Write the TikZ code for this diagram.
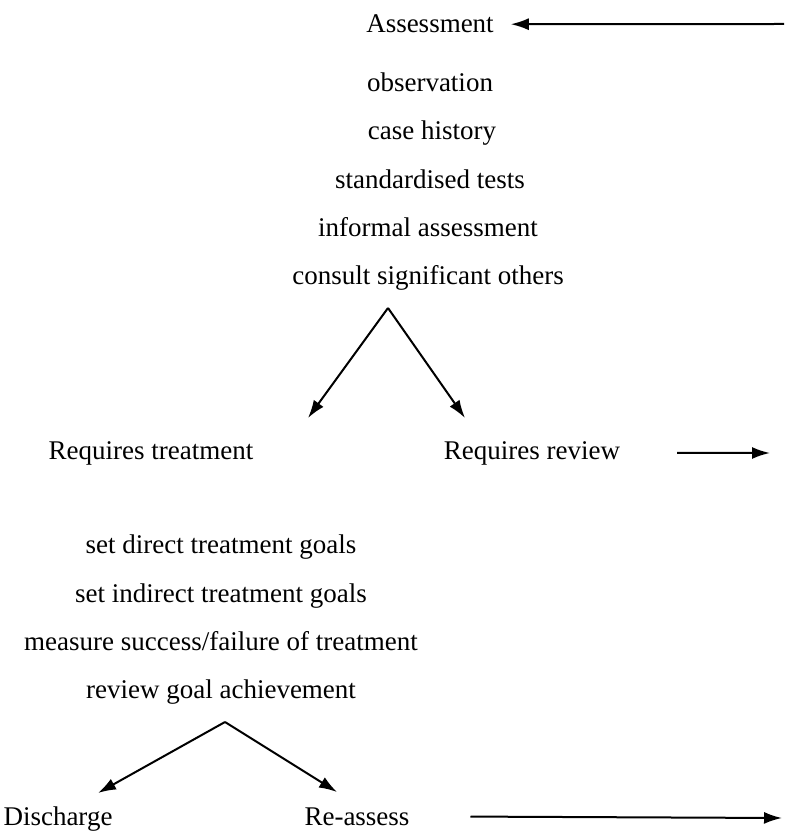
\documentclass[tikz,border=0pt]{standalone}
\usepackage{fontspec}
\setmainfont{Liberation Serif}
\usetikzlibrary{arrows.meta}

\begin{document}
\begin{tikzpicture}[x=0.5pt,y=-0.5pt,font=\fontsize{13.5}{16}\selectfont,
  >={Latex[length=9pt,width=6pt]},line width=1pt,
  every node/.style={anchor=base,inner sep=0pt}]
\useasboundingbox (0,0) rectangle (784,833);
% assessment
\node (ass) at (430,33) {Assessment};
\node (obs) at (430,92) {observation};
\node (hist) at (432,140) {case history};
\node (tests) at (430,189) {standardised tests};
\node (inf) at (428,237) {informal assessment};
\node (cons) at (428,285) {consult significant others};
% outcome
\node (treat) at (151,459) {Requires treatment};
\node (rev) at (532,459) {Requires review};
% treatment
\node (direct) at (221,553) {set direct treatment goals};
\node (indirect) at (221,602) {set indirect treatment goals};
\node (measure) at (221,650) {measure success/failure of treatment};
\node (goal) at (221,698) {review goal achievement};
\node (dis) at (58,825) {Discharge};
\node (reass) at (357,825) {Re-assess};

% fork points
\coordinate (topfork) at (388,308);
\coordinate (treattip) at (308,418);
\coordinate (revtip) at (465,418);
\coordinate (botfork) at (225,722);
\coordinate (distip) at (98,793);
\coordinate (reasstip) at (337,792);
% loop back
\coordinate (backin) at (784,24);
\coordinate (revout) at (770,453);
\coordinate (reassout) at (782,818);

\path[->]
(topfork) edge (treattip)
(topfork) edge (revtip)
(botfork) edge (distip)
(botfork) edge (reasstip);

\path[->]
(backin) edge[shorten >=8pt] (ass.east)
(rev.east) edge[shorten <=28pt] (revout)
(reass.east) edge[shorten <=30pt] (reassout);

\end{tikzpicture}
\end{document}
